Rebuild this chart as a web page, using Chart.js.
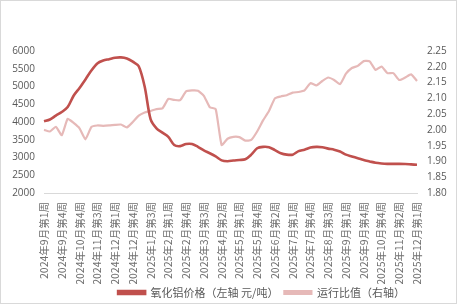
<!DOCTYPE html>
<html>
  <head>
    <meta charset="utf-8">
    <title>氧化铝价格</title>
    <style>
        body {
            margin: 0;
            background: #ffffff;
        }
        #box {
            position: relative;
            width: 455px;
            height: 302px;
            border: 1px solid #d9d9d9;
            background: #ffffff;
        }
    </style>
    <script src="https://cdn.jsdelivr.net/npm/chart.js@4.4.1/dist/chart.umd.min.js"></script>
  </head>
  <body>
  <div id="box"><canvas id="myChart" width="455" height="302"></canvas></div>

  <script type="text/javascript">
    // weekly labels, every third one is shown on the axis
    var weeks = [
      "2024年9月第1周","2024年9月第2周","2024年9月第3周","2024年9月第4周",
      "2024年10月第2周","2024年10月第3周","2024年10月第4周",
      "2024年11月第1周","2024年11月第2周","2024年11月第3周","2024年11月第4周","2024年11月第5周",
      "2024年12月第1周","2024年12月第2周","2024年12月第3周","2024年12月第4周",
      "2025年1月第1周","2025年1月第2周","2025年1月第3周","2025年1月第4周","2025年1月第5周",
      "2025年2月第1周","2025年2月第2周","2025年2月第3周","2025年2月第4周",
      "2025年3月第1周","2025年3月第2周","2025年3月第3周","2025年3月第4周",
      "2025年4月第1周","2025年4月第2周","2025年4月第3周","2025年4月第4周",
      "2025年5月第1周","2025年5月第2周","2025年5月第3周","2025年5月第4周","2025年5月第5周",
      "2025年6月第1周","2025年6月第2周","2025年6月第3周","2025年6月第4周",
      "2025年7月第1周","2025年7月第2周","2025年7月第3周","2025年7月第4周",
      "2025年8月第1周","2025年8月第2周","2025年8月第3周","2025年8月第4周","2025年8月第5周",
      "2025年9月第1周","2025年9月第2周","2025年9月第3周","2025年9月第4周",
      "2025年10月第2周","2025年10月第3周","2025年10月第4周","2025年10月第5周",
      "2025年11月第1周","2025年11月第2周","2025年11月第3周","2025年11月第4周",
      "2025年12月第1周"
    ];

    // 氧化铝价格 元/吨 (left axis)
    var price = [
      4020, 4070, 4180, 4280, 4420, 4740, 4960, 5200, 5450, 5650,
      5730, 5770, 5810, 5820, 5790, 5700, 5570, 5000, 4080, 3820,
      3700, 3580, 3350, 3320, 3380, 3380, 3300, 3200, 3120, 3030,
      2920, 2895, 2915, 2930, 2950, 3080, 3260, 3300, 3290, 3210,
      3120, 3080, 3080, 3180, 3220, 3280, 3300, 3290, 3250, 3220,
      3170, 3080, 3030, 2980, 2930, 2890, 2850, 2830, 2820, 2820,
      2820, 2815, 2805, 2795
    ];

    // 运行比值 (right axis)
    var ratio = [
      2.000, 1.995, 2.010, 1.983, 2.035, 2.022, 2.005, 1.970, 2.009, 2.014,
      2.013, 2.014, 2.016, 2.017, 2.008, 2.025, 2.045, 2.055, 2.060, 2.066,
      2.068, 2.098, 2.095, 2.094, 2.122, 2.125, 2.124, 2.108, 2.072, 2.066,
      1.952, 1.972, 1.978, 1.977, 1.966, 1.968, 1.995, 2.030, 2.060, 2.100,
      2.106, 2.110, 2.118, 2.120, 2.125, 2.148, 2.141, 2.155, 2.166, 2.158,
      2.145, 2.178, 2.196, 2.203, 2.218, 2.217, 2.190, 2.201, 2.180, 2.180,
      2.158, 2.166, 2.176, 2.155
    ];

    var seriesNames = ["氧化铝价格（左轴 元/吨）", "运行比值（右轴）"];

    // nudge the legend a bit right, like the original
    var legendShift = {
      id: 'legendShift',
      afterLayout: function (chart) {
        var lg = chart.legend;
        lg.left += 34; lg.right += 34;
        lg.top -= 3; lg.bottom -= 3;
      }
    };

    var textColor = "#595959";
    var ctx = document.getElementById('myChart').getContext('2d');
    var chart = new Chart(ctx, {
        type: 'line',
        data: {
            labels: weeks,
            datasets: [{
                  label: seriesNames[0],
                  data: price,
                  yAxisID: 'y',
                  borderColor: "#c0504d",
                  backgroundColor: "#c0504d",
                  borderWidth: 2.6,
                  pointRadius: 0,
                  tension: 0.3,
                  fill: false
            }, {
                  label: seriesNames[1],
                  data: ratio,
                  yAxisID: 'y1',
                  borderColor: "#e6b9b8",
                  backgroundColor: "#e6b9b8",
                  borderWidth: 2.2,
                  pointRadius: 0,
                  tension: 0.15,
                  fill: false
            }]
        },
        plugins: [legendShift],
        options: {
            responsive: false,
            animation: false,
            layout: {
                padding: { left: 0, right: 2, top: 50, bottom: -8 }
            },
            plugins: {
                legend: {
                    position: 'bottom',
                    labels: {
                        color: textColor,
                        boxWidth: 27,
                        boxHeight: 3,
                        padding: 6,
                        font: { family: "'Noto Sans CJK SC', sans-serif", size: 11 }
                    }
                },
                tooltip: { enabled: false }
            },
            scales: {
                x: {
                    grid: { display: false, drawTicks: false },
                    border: { display: true, color: '#d9d9d9' },
                    afterFit: function (scale) { scale.height = 91; },
                    ticks: {
                        autoSkip: false,
                        maxRotation: 90,
                        minRotation: 90,
                        padding: 9,
                        color: "#6f6f6f",
                        font: { family: "'Noto Sans CJK SC', sans-serif", size: 10.5 },
                        callback: function (value, index) {
                            return index % 3 === 0 ? weeks[index] : '';
                        }
                    }
                },
                y: {
                    position: 'left',
                    min: 2000,
                    max: 6000,
                    grid: { display: false, drawTicks: false },
                    border: { display: false },
                    afterFit: function (scale) { scale.width = 43; },
                    ticks: {
                        stepSize: 500,
                        autoSkip: false,
                        padding: 9,
                        color: textColor,
                        font: { family: "'Open Sans', sans-serif", size: 10 },
                        callback: function (value) { return String(value); }
                    }
                },
                y1: {
                    position: 'right',
                    min: 1.8,
                    max: 2.25,
                    grid: { display: false, drawTicks: false },
                    border: { display: false },
                    afterFit: function (scale) { scale.width = 37; },
                    ticks: {
                        stepSize: 0.05,
                        autoSkip: false,
                        padding: 10,
                        color: textColor,
                        font: { family: "'Open Sans', sans-serif", size: 10 },
                        callback: function (value) { return value.toFixed(2); }
                    }
                }
            }
        }
    });
  </script>
  </body>
</html>
